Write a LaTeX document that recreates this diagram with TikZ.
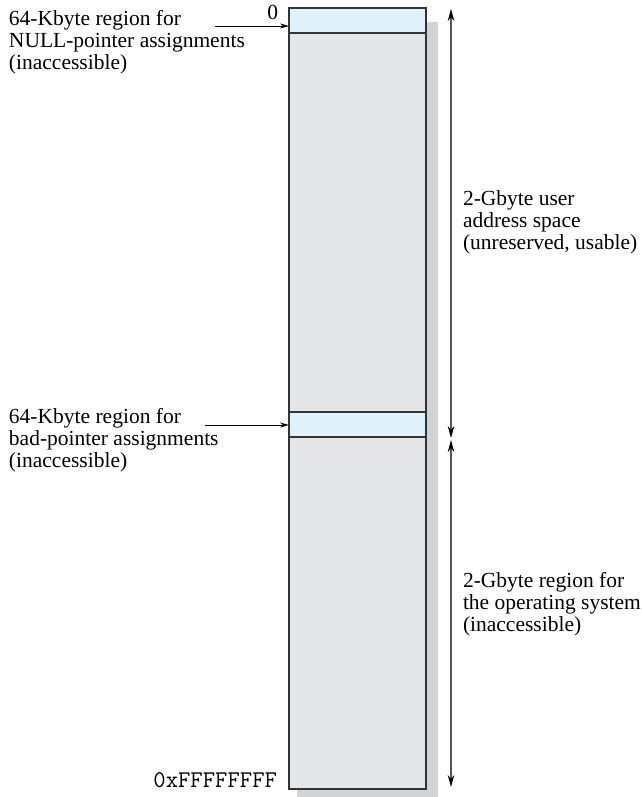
\documentclass[tikz,border=0pt]{standalone}
\usepackage{fontspec}
\setmainfont{Liberation Serif}
\usetikzlibrary{arrows.meta}
\definecolor{boxgray}{HTML}{E5E6E8}
\definecolor{bandblue}{HTML}{DFF1FB}
\definecolor{shadowgray}{HTML}{D2D3D5}
\definecolor{edgegray}{HTML}{333333}
\definecolor{dimgray}{HTML}{555555}
\begin{document}
\begin{tikzpicture}[x=1pt,y=-1pt,
  region/.style={draw=edgegray, line width=1.3pt, inner sep=0pt, outer sep=0pt,
    minimum width=137pt, anchor=north west},
  lbl/.style={inner sep=0pt, outer sep=0pt, align=left, anchor=base west,
    font=\fontsize{21.5}{22}\selectfont},
  ptr/.style={-{Stealth[length=9pt,width=5pt]}, line width=0.9pt, black},
  dimline/.style={{Stealth[length=12pt,width=6.5pt,black]}-{Stealth[length=12pt,width=6.5pt,black]}, line width=1.3pt, dimgray}
]
\useasboundingbox (0,0) rectangle (641,797);
% shadow
\fill[shadowgray] (297,22) rectangle (438,797);
% memory block
\node[region, fill=boxgray, minimum height=781pt] (mem) at (289,8) {};
\node[region, fill=bandblue, minimum height=25pt] (topband) at (289,8) {};
\node[region, fill=bandblue, minimum height=25pt] (midband) at (289,412) {};
% addresses
\node[lbl, anchor=base east] (zero) at (278,20) {0};
\node[lbl, anchor=base east, font=\fontsize{24}{24}\ttfamily] (ffff) at (277,787) {0xFFFFFFFF};
% left labels (anchor = baseline of last line)
\node[lbl] (l1) at (9,70) {64-Kbyte region for\\NULL-pointer assignments\\(inaccessible)};
\node[lbl] (l2) at (9,467) {64-Kbyte region for\\bad-pointer assignments\\(inaccessible)};
\coordinate (a1) at (215,26);
\coordinate (a2) at (205,425);
\draw[ptr] (a1) -- (a1 -| topband.west);
\draw[ptr] (a2) -- (a2 -| midband.west);
% right labels
\node[lbl] (r1) at (463,249) {2-Gbyte user\\address space\\(unreserved, usable)};
\node[lbl] (r2) at (463,631) {2-Gbyte region for\\the operating system\\(inaccessible)};
% dimension arrows
\coordinate (v1) at (451,9);
\coordinate (v2) at (451,438);
\coordinate (v3) at (451,440);
\coordinate (v4) at (451,787);
\draw[dimline] (v1) -- (v2);
\draw[dimline] (v3) -- (v4);
\end{tikzpicture}
\end{document}
